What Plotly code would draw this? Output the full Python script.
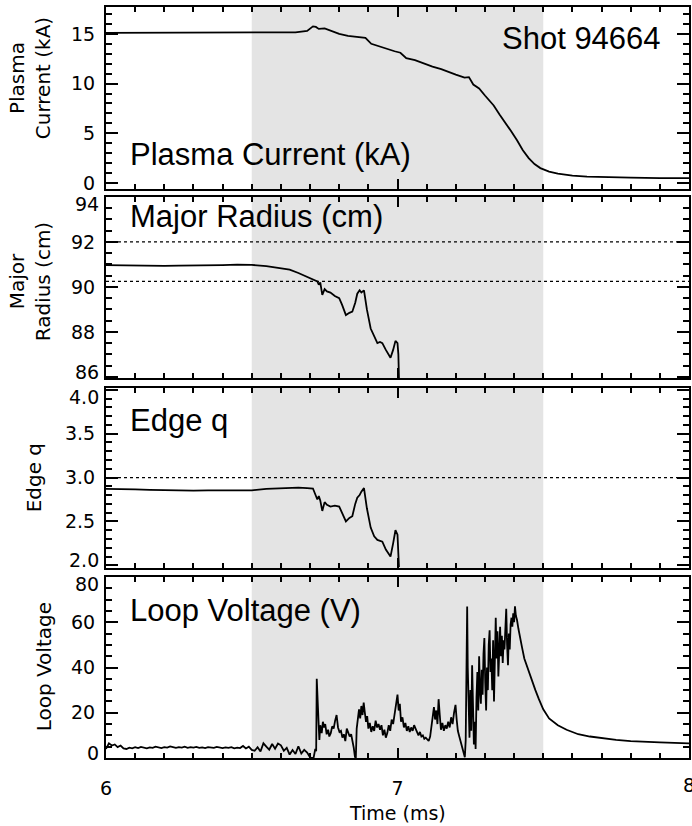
import plotly.graph_objects as go

# ---- Plasma current (kA) ----
t_ip = [6.00, 6.05, 6.10, 6.15, 6.20, 6.25, 6.30, 6.35, 6.40, 6.45, 6.50, 6.55, 6.60, 6.65,
        6.69, 6.71, 6.72, 6.73, 6.75, 6.77, 6.80, 6.83, 6.87, 6.89, 6.91, 6.95, 6.99, 7.01,
        7.03, 7.06, 7.09, 7.12, 7.15, 7.17, 7.20, 7.23, 7.245, 7.26, 7.28, 7.30, 7.33, 7.35,
        7.37, 7.39, 7.41, 7.43, 7.45, 7.47, 7.49, 7.52, 7.55, 7.60, 7.65, 7.70, 7.80, 7.90, 8.00]
ip = [15.1, 15.1, 15.12, 15.1, 15.13, 15.1, 15.12, 15.1, 15.1, 15.12, 15.1, 15.1, 15.12, 15.15,
      15.3, 15.75, 15.7, 15.5, 15.55, 15.3, 15.0, 14.8, 14.65, 14.6, 14.0, 13.6, 13.25, 13.1,
      12.55, 12.35, 12.0, 11.7, 11.45, 11.2, 10.9, 10.6, 10.65, 9.9, 9.5, 8.8, 7.8, 6.9,
      6.1, 5.2, 4.3, 3.3, 2.5, 1.9, 1.5, 1.15, 0.95, 0.75, 0.65, 0.6, 0.55, 0.5, 0.5]

# ---- Major radius (cm) and edge q share the same time base ----
t_eq = [6.00, 6.05, 6.10, 6.15, 6.20, 6.25, 6.30, 6.35, 6.40, 6.45,
        6.50, 6.55, 6.60, 6.63, 6.66, 6.69, 6.71, 6.725, 6.73, 6.735,
        6.742, 6.75, 6.758, 6.77, 6.785, 6.80, 6.81, 6.823, 6.835, 6.845,
        6.855, 6.862, 6.87, 6.876, 6.885, 6.895, 6.908, 6.92, 6.931, 6.94,
        6.948, 6.96, 6.976, 6.985, 6.993, 7.000, 7.003, 7.005]
radius = [90.97, 90.96, 90.93, 90.92, 90.94, 90.95, 90.95, 90.96, 90.97, 90.99,
          90.98, 90.93, 90.85, 90.77, 90.62, 90.45, 90.32, 90.25, 90.1, 90.2,
          89.65, 89.9, 89.8, 89.75, 89.6, 89.5, 89.2, 88.75, 88.85, 88.9,
          89.3, 89.7, 89.85, 89.75, 89.85, 89.0, 88.15, 87.8, 87.5, 87.55,
          87.5, 87.2, 86.85, 87.2, 87.6, 87.5, 87.0, 85.9]
edge_q = [2.87, 2.87, 2.865, 2.86, 2.855, 2.855, 2.85, 2.855, 2.855, 2.855,
          2.855, 2.87, 2.88, 2.885, 2.885, 2.88, 2.875, 2.75, 2.79, 2.74,
          2.62, 2.72, 2.69, 2.67, 2.68, 2.67, 2.6, 2.5, 2.54, 2.56,
          2.7, 2.77, 2.8, 2.84, 2.88, 2.65, 2.43, 2.33, 2.29, 2.28,
          2.27, 2.18, 2.1, 2.25, 2.4, 2.35, 2.2, 1.98]
radius_limits = [92.0, 90.25]
q_limit = [3.0]

# ---- Loop voltage (V) ----
t_vloop = [
    6.00, 6.01, 6.02, 6.03, 6.04, 6.05, 6.06, 6.07, 6.08, 6.09,
    6.10, 6.11, 6.12, 6.13, 6.14, 6.15, 6.16, 6.17, 6.18, 6.19,
    6.20, 6.21, 6.22, 6.23, 6.24, 6.25, 6.26, 6.27, 6.28, 6.29,
    6.30, 6.31, 6.32, 6.33, 6.34, 6.35, 6.36, 6.37, 6.38, 6.39,
    6.40, 6.41, 6.42, 6.43, 6.44, 6.45, 6.46, 6.47, 6.48, 6.49,
    6.50, 6.51, 6.52, 6.53, 6.54, 6.55, 6.56, 6.57, 6.58, 6.59,
    6.60, 6.61, 6.62, 6.63, 6.64, 6.65, 6.66, 6.67, 6.68, 6.69,
    6.70, 6.705, 6.712, 6.718, 6.721, 6.723, 6.726, 6.729, 6.732, 6.735,
    6.740, 6.744, 6.748, 6.752, 6.757, 6.762, 6.766, 6.771, 6.776, 6.781,
    6.786, 6.791, 6.796, 6.801, 6.806, 6.811, 6.816, 6.821, 6.826, 6.831,
    6.836, 6.841, 6.845, 6.850, 6.854, 6.857, 6.860, 6.864, 6.868, 6.872,
    6.876, 6.880, 6.884, 6.888, 6.892, 6.896, 6.900, 6.905, 6.910, 6.915,
    6.920, 6.925, 6.930, 6.935, 6.940, 6.945, 6.950, 6.955, 6.960, 6.965,
    6.970, 6.975, 6.980, 6.985, 6.990, 6.995, 7.000, 7.004, 7.008, 7.012,
    7.017, 7.022, 7.027, 7.032, 7.037, 7.042, 7.047, 7.052, 7.057, 7.062,
    7.067, 7.072, 7.077, 7.082, 7.087, 7.092, 7.097, 7.102, 7.107, 7.112,
    7.117, 7.121, 7.125, 7.129, 7.133, 7.137, 7.141, 7.145, 7.149, 7.154,
    7.159, 7.164, 7.169, 7.174, 7.179, 7.184, 7.189, 7.194, 7.199, 7.203,
    7.207, 7.212, 7.217, 7.222, 7.227, 7.231, 7.234, 7.237, 7.239, 7.241,
    7.244, 7.247, 7.250, 7.253, 7.256, 7.259, 7.262, 7.265, 7.268, 7.271,
    7.274, 7.277, 7.280, 7.283, 7.286, 7.289, 7.292, 7.295, 7.298, 7.301,
    7.304, 7.307, 7.310, 7.313, 7.316, 7.319, 7.322, 7.325, 7.328, 7.331,
    7.334, 7.337, 7.340, 7.343, 7.346, 7.349, 7.352, 7.355, 7.358, 7.361,
    7.364, 7.367, 7.370, 7.373, 7.376, 7.379, 7.382, 7.385, 7.388, 7.391,
    7.394, 7.397, 7.400, 7.403, 7.406, 7.410, 7.415, 7.420, 7.427, 7.435,
    7.443, 7.452, 7.462, 7.473, 7.485, 7.500, 7.520, 7.550, 7.580, 7.620,
    7.660, 7.700, 7.750, 7.800, 7.850, 7.900, 7.950, 8.000]
vloop = [
    4.0, 6.5, 5.5, 6.0, 4.8, 5.5, 4.2, 4.0, 4.6, 4.3,
    4.8, 4.4, 4.9, 4.5, 4.3, 4.7, 4.5, 5.0, 4.6, 4.4,
    4.8, 4.6, 5.1, 4.7, 4.5, 4.8, 4.6, 5.0, 4.5, 4.8,
    4.6, 4.9, 4.5, 4.7, 4.4, 4.8, 4.6, 4.5, 4.9, 4.6,
    4.4, 4.7, 4.5, 4.8, 4.3, 4.6, 4.4, 5.3, 4.2, 5.0,
    3.6, 3.2, 4.8, 2.9, 6.5, 5.0, 3.7, 6.2, 4.1, 6.4,
    5.6, 3.2, 4.5, 1.5, 3.5, 1.8, 5.2, 2.0, 3.6, 2.4,
    0.3, 0.0, 0.0, 4.0, 3.0, 35.0, 22.0, 16.5, 8.0, 14.5,
    11.0, 16.0, 13.5, 15.0, 10.5, 12.5, 9.5, 11.0, 14.0, 13.0,
    16.5, 19.0, 13.5, 11.5, 12.0, 9.0, 10.5, 7.5, 13.0, 11.0,
    9.5, 10.5, 8.0, 4.5, 0.5, 0.0, 13.0, 18.0, 21.5, 17.5,
    23.0, 19.0, 24.5, 20.0, 16.0, 18.5, 13.0, 15.5, 11.5, 14.0,
    12.0, 16.5, 13.5, 15.0, 12.5, 14.5, 10.0, 12.5, 9.0, 11.0,
    14.5, 12.0, 17.0, 15.0, 19.5, 22.0, 28.0, 21.0, 24.0, 16.0,
    18.0, 13.5, 15.5, 12.0, 14.0, 11.5, 13.5, 12.0, 14.5, 13.0,
    11.0, 10.0, 11.5, 9.5, 10.0, 8.5, 9.0, 8.0, 7.5, 9.5,
    14.0, 19.5, 22.5, 17.0, 21.0, 15.0, 26.0, 19.0, 12.5, 15.5,
    12.0, 14.5, 13.0, 16.0, 13.5, 18.0, 15.0, 20.0, 23.5, 17.0,
    12.0, 9.5, 7.0, 4.5, 3.0, 0.3, 8.0, 48.0, 67.0, 40.0,
    20.0, 9.0, 30.0, 12.0, 41.0, 22.0, 6.0, 16.0, 4.0, 27.0,
    38.0, 21.0, 45.0, 30.0, 24.0, 39.0, 28.0, 46.0, 53.0, 33.0,
    21.0, 40.0, 30.0, 50.0, 56.5, 38.0, 44.0, 30.0, 52.0, 25.0,
    46.0, 62.0, 44.0, 56.0, 36.0, 50.0, 58.0, 45.0, 54.0, 42.0,
    52.0, 48.0, 60.0, 66.0, 50.0, 41.0, 55.0, 48.0, 59.0, 62.0,
    58.0, 64.0, 60.0, 67.0, 63.0, 61.0, 57.0, 53.0, 49.0, 44.0,
    41.0, 37.5, 33.5, 30.0, 26.0, 21.5, 17.5, 14.5, 12.5, 10.5,
    9.5, 8.8, 8.0, 7.5, 7.1, 6.9, 6.7, 6.5]

shade_window = [6.5, 7.5]
time_ticks = [6, 7, 8]

# y tick labels per panel; labels on the panel borders are nudged inward separately
y_tickvals = [[0, 5, 10, 15], [86, 88, 90, 92, 94], [2.0, 2.5, 3.0, 3.5, 4.0], [0, 20, 40, 60, 80]]
y_ticktext = [["0", "5", "10", "15"], ["86", "88", "90", "92", "94"],
              ["2.0", "2.5", "3.0", "3.5", "4.0"], ["0", "20", "40", "60", "80"]]

panel_labels = ["Plasma Current (kA)", "Major Radius (cm)", "Edge q", "Loop Voltage (V)"]
axis_titles = ["Plasma<br>Current (kA)", "Major<br>Radius (cm)", "Edge q", "Loop Voltage"]
shot_label = "Shot 94664"

TICK_FONT = dict(family="DejaVu Sans", size=19, color="black")
LABEL_FONT = dict(family="Liberation Sans, Arial", size=31, color="black")
TITLE_FONT = dict(family="DejaVu Sans", size=20, color="black")

# panel domains (top to bottom)
domains = [[0.7577, 1.0], [0.506, 0.747], [0.253, 0.4927], [0.0, 0.241]]
y_ranges = [[-0.6, 17.7], [85.95, 94.0], [1.97, 4.02], [0, 80]]
y_minor = [1, 0.5, 0.1, 5]
y_minor0 = [0, 86, 2, 0]

fig = go.Figure()

series = [(t_ip, ip), (t_eq, radius), (t_eq, edge_q), (t_vloop, vloop)]
for i, (tx, yv) in enumerate(series, start=1):
    sfx = "" if i == 1 else str(i)
    fig.add_trace(go.Scatter(x=tx, y=yv, mode="lines", xaxis="x" + sfx, yaxis="y" + sfx,
                             line=dict(color="black", width=1.8),
                             showlegend=False, hoverinfo="skip"))

layout = {}
for i in range(4):
    sfx = "" if i == 0 else str(i + 1)
    lo, hi = y_ranges[i]
    layout["yaxis" + sfx] = dict(
        domain=domains[i], range=y_ranges[i], anchor="x" + sfx,
        tickmode="array", tickvals=y_tickvals[i],
        ticktext=[t if (lo + 0.05 < v < hi - 0.05) else "" for v, t in zip(y_tickvals[i], y_ticktext[i])],
        ticks="inside", ticklen=12, tickwidth=2, tickcolor="black",
        minor=dict(tick0=y_minor0[i], dtick=y_minor[i], ticks="inside", ticklen=6,
                   tickwidth=2, tickcolor="black", showgrid=False),
        showline=True, linecolor="black", linewidth=2, mirror="ticks",
        showgrid=False, zeroline=False, tickfont=TICK_FONT, ticklabelstandoff=5)
    layout["xaxis" + sfx] = dict(
        domain=[0, 1], range=[6, 8], anchor="y" + sfx,
        tickmode="array", tickvals=time_ticks[:-1], ticktext=[str(v) for v in time_ticks[:-1]],
        ticks="inside", ticklen=10, tickwidth=2, tickcolor="black",
        minor=dict(tick0=6, dtick=0.1, ticks="inside", ticklen=5,
                   tickwidth=2, tickcolor="black", showgrid=False),
        showline=True, linecolor="black", linewidth=2, mirror="ticks",
        showgrid=False, zeroline=False, tickfont=TICK_FONT,
        showticklabels=(i == 3), ticklabelstandoff=12)

shapes = []
for i in range(4):
    sfx = "" if i == 0 else str(i + 1)
    # shaded disruption window
    shapes.append(dict(type="rect", xref="x" + sfx, yref=f"y{sfx} domain",
                       x0=shade_window[0], x1=shade_window[1], y0=0, y1=1,
                       fillcolor="#e4e4e4", line=dict(width=0), layer="below"))
# dotted reference levels
for lvl in radius_limits:
    shapes.append(dict(type="line", xref="x2 domain", yref="y2", x0=0, x1=1, y0=lvl, y1=lvl,
                       line=dict(color="black", width=1.3, dash="dot")))
for lvl in q_limit:
    shapes.append(dict(type="line", xref="x3 domain", yref="y3", x0=0, x1=1, y0=lvl, y1=lvl,
                       line=dict(color="black", width=1.3, dash="dot")))

annotations = []
# border tick labels, pulled inward from the panel edges
for i in range(4):
    sfx = "" if i == 0 else str(i + 1)
    lo, hi = y_ranges[i]
    for v, t in zip(y_tickvals[i], y_ticktext[i]):
        if v <= lo + 0.05:
            shift = 5
        elif v >= hi - 0.05:
            shift = -7
        else:
            continue
        annotations.append(dict(text=t, x=0, y=v, xref="paper", yref="y" + sfx,
                                xanchor="right", yanchor="middle", xshift=-5, yshift=shift,
                                showarrow=False, font=TICK_FONT))

# last time label sits on the right border and runs off the page
annotations.append(dict(text=str(time_ticks[-1]), x=time_ticks[-1], y=0, xref="x4", yref="paper",
                        xanchor="center", yanchor="top", yshift=-14,
                        showarrow=False, font=TICK_FONT))

# panel labels
label_y = [0.803, 0.7204, 0.450, 0.197]
for lab, yy in zip(panel_labels, label_y):
    annotations.append(dict(text=lab, x=0.0376, y=yy, xref="paper", yref="paper",
                            xanchor="left", yanchor="middle", showarrow=False, font=LABEL_FONT))
annotations.append(dict(text=shot_label, x=0.956, y=0.958, xref="paper", yref="paper",
                        xanchor="right", yanchor="middle", showarrow=False, font=LABEL_FONT))

# rotated axis titles
title_x = [-0.13, -0.13, -0.123, -0.106]
title_y = [0.9055, 0.635, 0.3728, 0.121]
for txt, xx, yy in zip(axis_titles, title_x, title_y):
    annotations.append(dict(text=txt, x=xx, y=yy, xref="paper", yref="paper", textangle=-90,
                            xanchor="center", yanchor="middle", showarrow=False, font=TITLE_FONT))

annotations.append(dict(text="Time (ms)", x=0.5, y=-0.073, xref="paper", yref="paper",
                        xanchor="center", yanchor="middle", showarrow=False,
                        font=dict(family="DejaVu Sans", size=19, color="black")))

fig.update_layout(width=692, height=826, margin=dict(l=106, r=1, t=7, b=68),
                  paper_bgcolor="white", plot_bgcolor="white",
                  shapes=shapes, annotations=annotations, **layout)

fig.write_html("out.html")
